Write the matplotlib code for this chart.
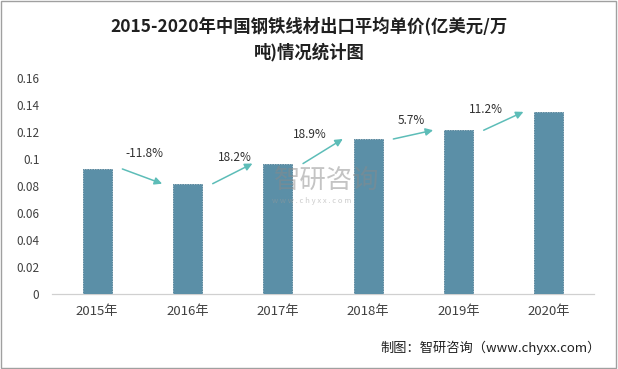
import matplotlib
matplotlib.use("Agg")
import matplotlib.pyplot as plt
from matplotlib.patches import Rectangle

plt.rcParams['font.family'] = ['Noto Sans CJK SC', 'DejaVu Sans']

years = ["2015年", "2016年", "2017年", "2018年", "2019年", "2020年"]
prices = [0.0926, 0.0817, 0.0966, 0.1148, 0.1213, 0.1349]
growth = ["-11.8%", "18.2%", "18.9%", "5.7%", "11.2%"]
yticks = [0, 0.02, 0.04, 0.06, 0.08, 0.1, 0.12, 0.14, 0.16]
ytick_labels = ["0", "0.02", "0.04", "0.06", "0.08", "0.1", "0.12", "0.14", "0.16"]

bar_color = "#5b8fa7"
arrow_color = "#5dbdb8"

fig = plt.figure(figsize=(6.18, 3.69), dpi=100)
fig.patches.append(Rectangle((0.002, 0.003), 0.995, 0.994, transform=fig.transFigure,
                             fill=False, edgecolor="#a0a0a0", linewidth=1.0))

ax = fig.add_axes([0.084, 0.2033, 0.877, 0.5854])
x = list(range(len(years)))
ax.bar(x, prices, width=0.32, color=bar_color, edgecolor="#4f7f96", linewidth=0.6,
       linestyle=(0, (2, 1)), zorder=3)
ax.set_xlim(-0.5, len(years) - 0.5)
ax.set_ylim(0, 0.16)
ax.set_yticks(yticks)
ax.set_yticklabels(ytick_labels, fontsize=8.5, color="#404040")
ax.set_xticks(x)
ax.set_xticklabels(years, fontsize=9.5, color="#404040")
ax.tick_params(axis='both', length=0)
ax.tick_params(axis='y', pad=9)
ax.tick_params(axis='x', pad=8)
for s in ["top", "right", "left"]:
    ax.spines[s].set_visible(False)
ax.spines["bottom"].set_color("#d0d0d0")
ax.spines["bottom"].set_linewidth(0.9)

label_dx = [0.03, 0.02, -0.14, -0.02, -0.20]
label_dy = [23, 16, 17, 14, 12]
for i, g in enumerate(growth):
    x0, y0 = i + 0.28, prices[i]
    x1, y1 = i + 0.72, prices[i + 1]
    ax.annotate("", xy=(x1, y1), xytext=(x0, y0),
                arrowprops=dict(arrowstyle="-|>", color=arrow_color, lw=1.1,
                                mutation_scale=11, shrinkA=0, shrinkB=0), zorder=4)
    ax.annotate(g, xy=(i + 0.5 + label_dx[i], (y0 + y1) / 2), xytext=(0, label_dy[i]),
                textcoords="offset pixels", ha="center", va="center",
                fontsize=8.5, color="#303030", zorder=5)

# watermark
fig.text(0.528, 0.51, "智研咨询", fontsize=19, color="#8a8a8a", alpha=0.5,
         ha="center", va="center", zorder=10)
fig.text(0.505, 0.455, "w w w . c h y x x . c o m", fontsize=5.5, color="#9a9a9a", alpha=0.5,
         ha="center", va="center", zorder=10)

fig.text(0.5, 0.93, "2015-2020年中国钢铁线材出口平均单价(亿美元/万", fontsize=12.5,
         fontweight="bold", ha="center", va="center", color="#202020")
fig.text(0.5, 0.858, "吨)情况统计图", fontsize=12.5, fontweight="bold",
         ha="center", va="center", color="#202020")

fig.text(0.972, 0.057, "制图：智研咨询（www.chyxx.com）", fontsize=9.5, ha="right",
         va="center", color="#202020")

fig.savefig("out.png", dpi=100)
